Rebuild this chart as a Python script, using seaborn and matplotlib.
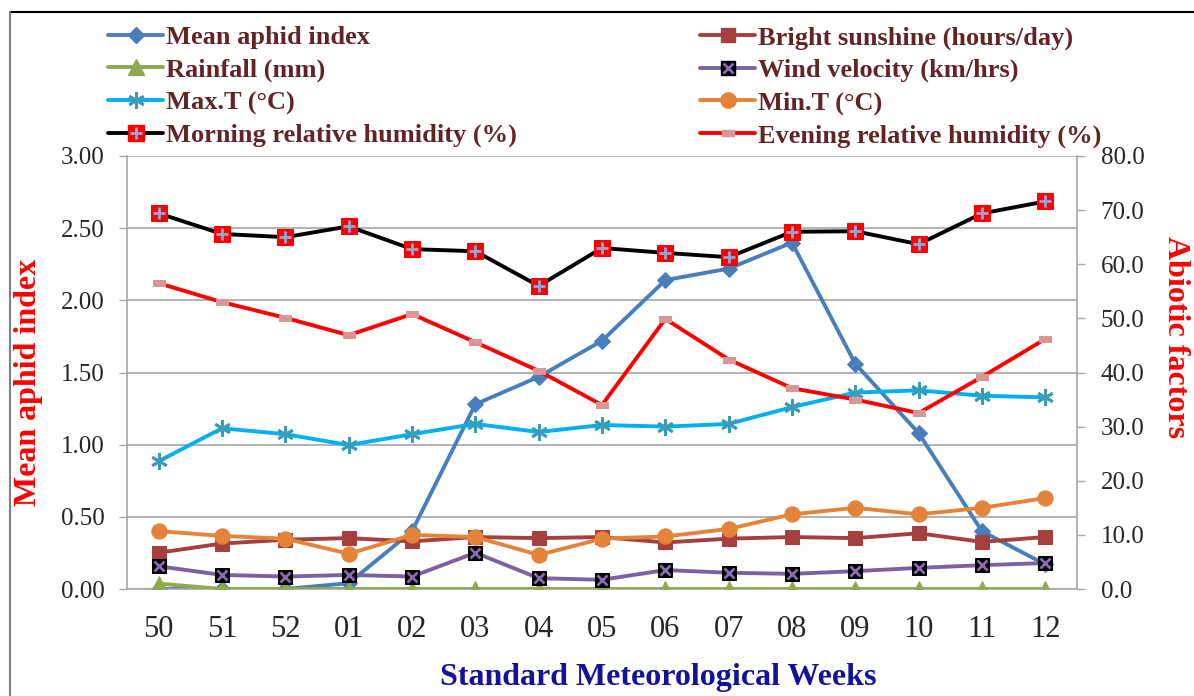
import numpy as np
import matplotlib
matplotlib.use('Agg')
import matplotlib.pyplot as plt
import seaborn as sns
from matplotlib.lines import Line2D
from matplotlib.path import Path
from matplotlib.legend_handler import HandlerTuple

# Data
weeks = ['50', '51', '52', '01', '02', '03', '04', '05', '06', '07', '08', '09', '10', '11', '12']
aphid = [0.00, 0.00, 0.00, 0.04, 0.40, 1.28, 1.47, 1.72, 2.14, 2.22, 2.40, 1.56, 1.08, 0.40, 0.17]
sunshine = [6.7, 8.4, 9.1, 9.4, 8.8, 9.6, 9.4, 9.6, 8.6, 9.3, 9.6, 9.4, 10.3, 8.7, 9.6]
rainfall = [1.0, 0.0, 0.0, 0.0, 0.0, 0.0, 0.0, 0.0, 0.0, 0.0, 0.0, 0.0, 0.0, 0.0, 0.0]
wind = [4.2, 2.6, 2.3, 2.6, 2.3, 6.7, 2.0, 1.7, 3.5, 3.0, 2.8, 3.3, 3.9, 4.4, 4.8]
max_t = [23.6, 29.7, 28.6, 26.6, 28.6, 30.5, 29.0, 30.3, 30.0, 30.5, 33.6, 36.3, 36.7, 35.7, 35.4]
min_t = [10.7, 9.8, 9.3, 6.5, 10.0, 9.6, 6.3, 9.3, 9.7, 11.1, 13.8, 15.0, 13.8, 15.0, 16.8]
morning_rh = [69.4, 65.6, 65.0, 67.0, 62.8, 62.4, 56.0, 63.0, 62.1, 61.3, 66.0, 66.1, 63.7, 69.4, 71.6]
evening_rh = [56.5, 53.0, 50.1, 46.9, 50.8, 45.6, 40.3, 34.0, 49.9, 42.4, 37.1, 35.0, 32.5, 39.2, 46.2]

sns.set_style('white')
plt.rcParams['font.family'] = ['Liberation Serif', 'DejaVu Serif']

x = np.arange(len(weeks))
fig = plt.figure(figsize=(11.94, 6.96), dpi=100)
ax = fig.add_axes([127 / 1194, 1 - 589 / 696, (1077 - 127) / 1194, (589 - 156) / 696])
ax2 = ax.twinx()

LW = 2.8
grid_c = '#A6A6A6'

# primary axis: aphid index
sns.lineplot(x=x, y=aphid, ax=ax, color='#4A7EBB', linewidth=LW, marker='D', markersize=8,
             markeredgecolor='#4A7EBB')

# secondary axis: abiotic factors
sns.lineplot(x=x, y=sunshine, ax=ax2, color='#A5403E', linewidth=LW, marker='s', markersize=10,
             markeredgecolor='#A5403E')
sns.lineplot(x=x, y=rainfall, ax=ax2, color='#8DAA4E', linewidth=LW, marker='^', markersize=11,
             markeredgecolor='#8DAA4E')
sns.lineplot(x=x, y=wind, ax=ax2, color='#7D60A0', linewidth=LW, marker='s', markersize=10,
             markerfacecolor='black', markeredgecolor='black')
sns.lineplot(x=x, y=wind, ax=ax2, color='#7D60A0', linestyle='none', marker='x', markersize=7,
             markeredgewidth=2, markeredgecolor='#8A6BB0')
sns.lineplot(x=x, y=max_t, ax=ax2, color='#00B0F0', linewidth=LW, marker=(6, 2, 0), markersize=12,
             markeredgecolor='#3A9DB8', markeredgewidth=2)
sns.lineplot(x=x, y=min_t, ax=ax2, color='#E3843A', linewidth=LW, marker='o', markersize=11,
             markeredgecolor='#E3843A')
sns.lineplot(x=x, y=morning_rh, ax=ax2, color='black', linewidth=LW, marker='s', markersize=11,
             markerfacecolor='#FF0000', markeredgecolor='#FF0000')
sns.lineplot(x=x, y=morning_rh, ax=ax2, color='#8EA9DB', linestyle='none', marker='+',
             markersize=9, markeredgewidth=2, markeredgecolor='#8EA9DB')
rect = Path([(-1, -0.45), (1, -0.45), (1, 0.45), (-1, 0.45), (-1, -0.45)])
sns.lineplot(x=x, y=evening_rh, ax=ax2, color='#FF0000', linewidth=LW, marker=rect, markersize=9,
             markerfacecolor='#D99694', markeredgecolor='#D99694')

# axes formatting
ax.set_xlim(-0.5, len(weeks) - 0.5)
ax.set_ylim(0, 3)
ax2.set_ylim(0, 80)
ax.set_yticks(np.arange(0, 3.01, 0.5))
ax.set_yticklabels([f'{v:.2f}' for v in np.arange(0, 3.01, 0.5)])
ax2.set_yticks(np.arange(0, 81, 10))
ax2.set_yticklabels([f'{v:.1f}' for v in np.arange(0, 81, 10)])
ax.set_xticks(x)
ax.set_xticklabels(weeks)
ax.set_xticks(np.arange(-0.5, len(weeks), 1), minor=True)
ax.yaxis.grid(True, color=grid_c, lw=1.2)
ax.xaxis.grid(False)
ax.set_axisbelow(True)

ax.tick_params(axis='x', which='major', length=0, pad=19, labelsize=22)
ax.tick_params(axis='x', which='minor', length=6, width=1, color=grid_c, direction='out')
ax.tick_params(axis='y', length=6, width=1, color=grid_c, direction='out', pad=10, labelsize=18)
ax2.tick_params(axis='y', length=6, width=1, color=grid_c, direction='out', pad=11, labelsize=18)

for a in (ax, ax2):
    for s in a.spines.values():
        s.set_color(grid_c)
        s.set_linewidth(1.2)
    a.spines['top'].set_visible(False)
ax2.spines['left'].set_visible(False)
ax2.spines['bottom'].set_visible(False)
ax.spines['right'].set_visible(False)
ax.set_xlabel('')
ax.set_ylabel('')
ax2.set_ylabel('')

# axis titles
fig.text(29 / 1194, 1 - 382 / 696, 'Mean aphid index', rotation=90, ha='center', va='center',
         fontsize=23, fontweight='bold', color='#FF0000')
fig.text(1175 / 1194, 1 - 337 / 696, 'Abiotic factors', rotation=270, ha='center', va='center',
         fontsize=23, fontweight='bold', color='#FF0000')
fig.text(658 / 1194, 1 - 678 / 696, 'Standard Meteorological Weeks', ha='center', va='center',
         fontsize=23, fontweight='bold', color='#12129A')

# legend proxies
def proxy(color, **kw):
    return Line2D([], [], color=color, lw=LW, **kw)

h_aphid = proxy('#4A7EBB', marker='D', markersize=8)
h_rain = proxy('#8DAA4E', marker='^', markersize=11)
h_max = proxy('#00B0F0', marker=(6, 2, 0), markersize=12, markeredgecolor='#3A9DB8', markeredgewidth=2)
h_morn = (proxy('black', marker='s', markersize=11, markerfacecolor='#FF0000', markeredgecolor='#FF0000'),
          Line2D([], [], linestyle='none', marker='+', markersize=9, markeredgewidth=2, color='#8EA9DB'))
h_sun = proxy('#A5403E', marker='s', markersize=10)
h_wind = (proxy('#7D60A0', marker='s', markersize=10, markerfacecolor='black', markeredgecolor='black'),
          Line2D([], [], linestyle='none', marker='x', markersize=7, markeredgewidth=2, color='#8A6BB0'))
h_min = proxy('#E3843A', marker='o', markersize=11)
h_eve = proxy('#FF0000', marker=rect, markersize=9, markerfacecolor='#D99694', markeredgecolor='#D99694')

leg_kw = dict(loc='upper left', frameon=False, borderpad=0, borderaxespad=0, handlelength=2.1,
              handletextpad=0.08, labelspacing=0.33, prop={'size': 19, 'weight': 'bold'},
              labelcolor='#632523', handler_map={tuple: HandlerTuple(ndivide=1)})
leg1 = fig.legend([h_aphid, h_rain, h_max, h_morn],
                  ['Mean aphid index', 'Rainfall (mm)', 'Max.T (°C)', 'Morning relative humidity (%)'],
                  bbox_to_anchor=(108 / 1194, 1 - 26 / 696), **leg_kw)
leg2 = fig.legend([h_sun, h_wind, h_min, h_eve],
                  ['Bright sunshine (hours/day)', 'Wind velocity (km/hrs)', 'Min.T (°C)',
                   'Evening relative humidity (%)'],
                  bbox_to_anchor=(700 / 1194, 1 - 26 / 696), **leg_kw)

# outer frame
fig.add_artist(Line2D([10 / 1194, 1], [1 - 12 / 696, 1 - 12 / 696], color='black', lw=1.5,
                      transform=fig.transFigure))
fig.add_artist(Line2D([10 / 1194, 10 / 1194], [0, 1 - 12 / 696], color='#808080', lw=1.5,
                      transform=fig.transFigure))

fig.savefig('out.png', dpi=100)
